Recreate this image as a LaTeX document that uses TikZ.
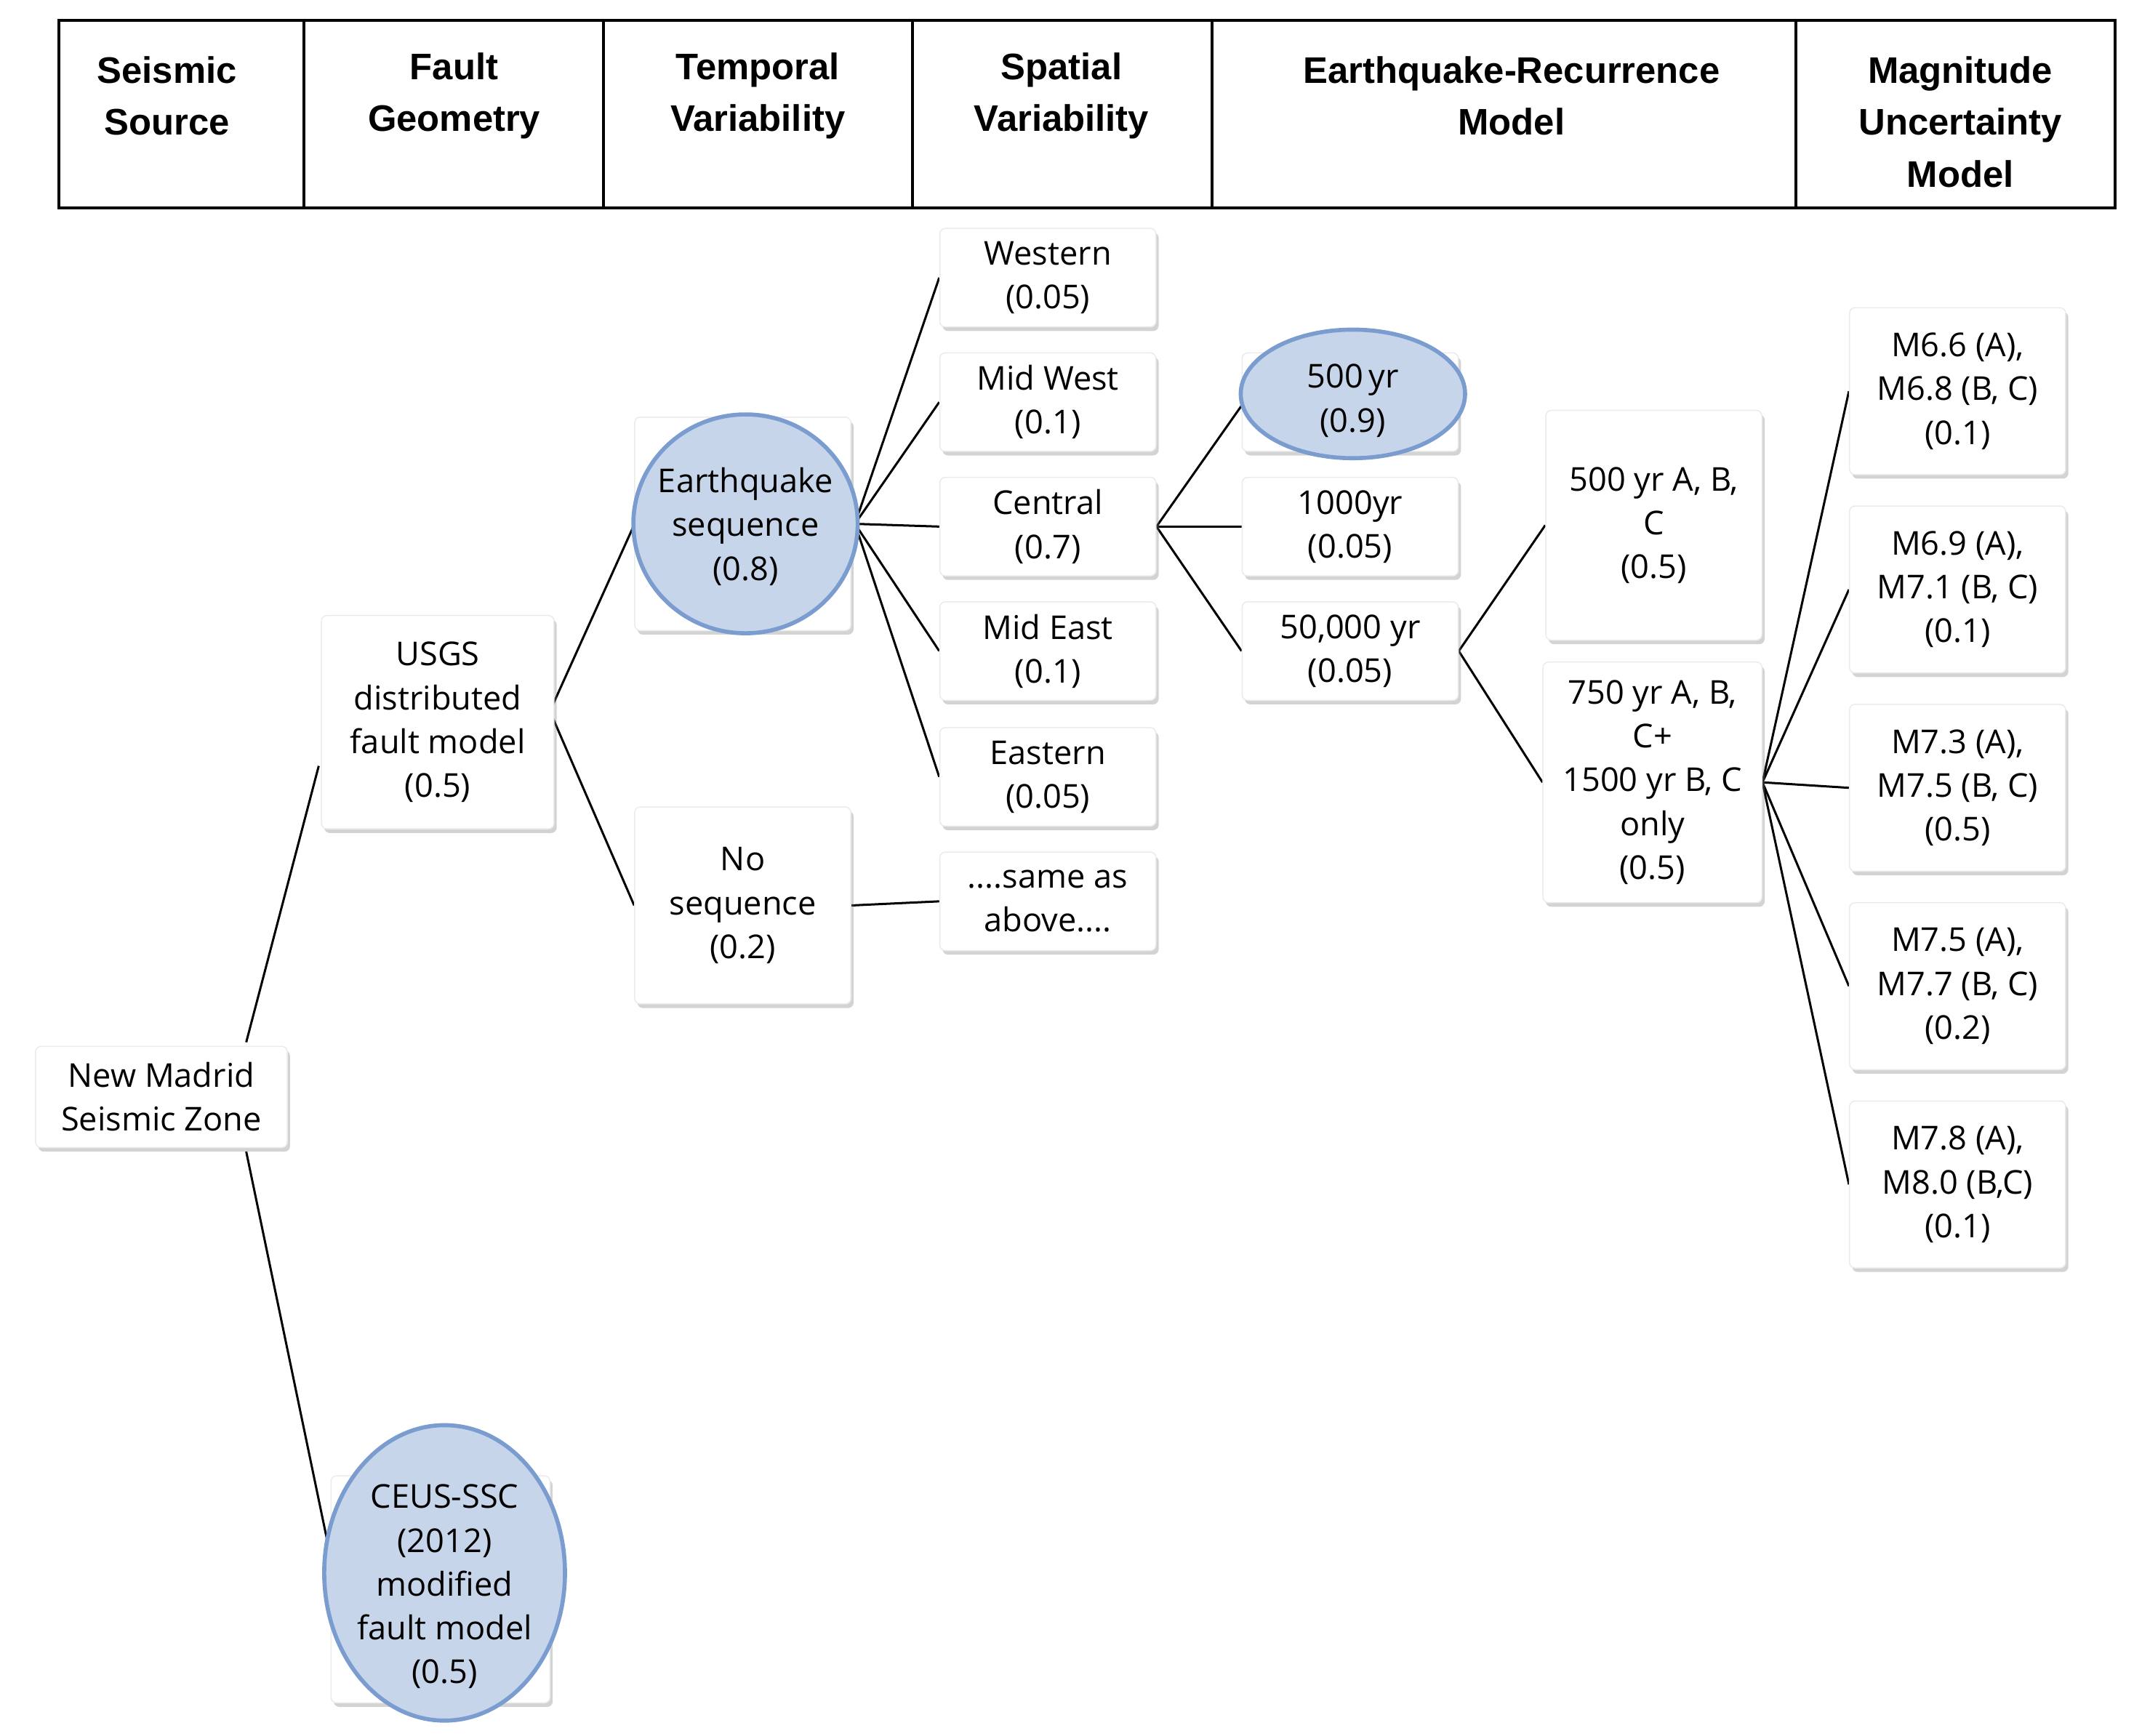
\documentclass[tikz,border=0pt]{standalone}
\usepackage{fontspec}
\setmainfont{Open Sans}
\newfontfamily\hdr{Liberation Sans}
\usetikzlibrary{shadows,shapes.geometric,backgrounds}
\definecolor{ellfill}{HTML}{C7D5EB}
\definecolor{elldraw}{HTML}{7A9CCF}
\begin{document}
\begin{tikzpicture}[x=0.5pt,y=-0.5pt,
  box/.style={draw=black!8,fill=white,rounded corners=2pt,drop shadow={shadow xshift=1pt,shadow yshift=-1.5pt,opacity=0.35},minimum width=79pt,inner sep=0pt},
  txt/.style={align=center,font=\fontsize{12}{16}\selectfont,inner sep=0pt},
  hd/.style={align=center,font=\hdr\bfseries\fontsize{13.5}{19}\selectfont},
  ell/.style={ellipse,draw=elldraw,line width=1.5pt,fill=ellfill,inner sep=0pt},
  ln/.style={line width=0.8pt}]
\useasboundingbox (0,0) rectangle (1560,1269);
% header
\draw[line width=1pt] (43,15) rectangle (1546,152);
\foreach \x in {222,441,667,886,1313} \draw[line width=1pt] (\x,15) -- (\x,152);
\node[hd] (h1) at (122,70) {Seismic\\Source};
\node[hd] (h2) at (332,70) {Fault\\Geometry};
\node[hd] (h3) at (554,70) {Temporal\\Variability};
\node[hd] (h4) at (776,70) {Spatial\\Variability};
\node[hd] (h5) at (1105,70) {Earthquake-Recurrence\\Model};
\node[hd] (h6) at (1433,89) {Magnitude\\Uncertainty\\Model};
% boxes
\node[box,minimum width=92pt,minimum height=37pt,txt] (nm) at (118,802) {New Madrid\\Seismic Zone};
\node[box,minimum width=85pt,minimum height=78pt,txt] (usgs) at (320,528) {USGS\\distributed\\fault model\\(0.5)};
\node[box,minimum width=80pt,minimum height=83pt] (ceus) at (322,1162) {};
\node[ell,minimum width=88pt,minimum height=108pt] (ceusE) at (325,1150) {};
\node[txt] (ceusT) at (325,1160) {CEUS-SSC\\(2012)\\modified\\fault model\\(0.5)};
\node[box,minimum height=78pt] (eq) at (543,383) {};
\node[ell,minimum width=82pt,minimum height=80pt] (eqE) at (545,383) {};
\node[txt] (eqT) at (545,385) {Earthquake\\sequence\\(0.8)};
\node[box,minimum height=72pt,txt] (noseq) at (543,662) {No\\sequence\\(0.2)};
\node[box,minimum height=36pt,txt] (w) at (766,203) {Western\\(0.05)};
\node[box,minimum height=36pt,txt] (mw) at (766,294) {Mid West\\(0.1)};
\node[box,minimum height=36pt,txt] (c) at (766,385) {Central\\(0.7)};
\node[box,minimum height=36pt,txt] (me) at (766,476) {Mid East\\(0.1)};
\node[box,minimum height=36pt,txt] (e) at (766,568) {Eastern\\(0.05)};
\node[box,minimum height=36pt,txt] (same) at (766,659) {....same as\\above....};
\node[box,minimum height=36pt] (y500) at (987,294) {};
\node[ell,minimum width=82pt,minimum height=47pt] (y500E) at (989,288) {};
\node[txt] (y500T) at (989,293) {500\,yr\\(0.9)};
\node[box,minimum height=36pt,txt] (y1000) at (987,385) {1000yr\\(0.05)};
\node[box,minimum height=36pt,txt] (y50k) at (987,476) {50,000 yr\\(0.05)};
\node[box,minimum height=84pt,txt] (abc) at (1209,384) {500 yr A, B,\\C\\(0.5)};
\node[box,minimum width=80pt,minimum height=88pt,txt] (y750) at (1208,572) {750 yr A, B,\\C+\\1500 yr B, C\\only\\(0.5)};
\node[box,minimum height=61pt,txt] (m1) at (1431,286) {M6.6 (A),\\M6.8 (B, C)\\(0.1)};
\node[box,minimum height=61pt,txt] (m2) at (1431,431) {M6.9 (A),\\M7.1 (B, C)\\(0.1)};
\node[box,minimum height=61pt,txt] (m3) at (1431,576) {M7.3 (A),\\M7.5 (B, C)\\(0.5)};
\node[box,minimum height=61pt,txt] (m4) at (1431,721) {M7.5 (A),\\M7.7 (B, C)\\(0.2)};
\node[box,minimum height=61pt,txt] (m5) at (1431,866) {M7.8 (A),\\M8.0 (B,C)\\(0.1)};
% connectors
\begin{pgfonlayer}{background}
\coordinate (nmT) at (180,762); \coordinate (nmB) at (180,842);
\coordinate (usL) at (233,560); \coordinate (ceL) at (241,1135);
\draw[ln] (nmT) -- (usL);
\draw[ln] (nmB) -- (ceL);
\coordinate (usR) at (402,520);
\coordinate (eqL) at (463,385); \coordinate (eqR) at (625,383);
\draw[ln] (usR) -- (eqL);
\draw[ln] (usR) -- (noseq.west);
\foreach \n in {w,mw,c,me,e} \draw[ln] (eqR) -- (\n.west);
\draw[ln] (noseq.east) -- (same.west);
\coordinate (y500L) at (908,296);
\draw[ln] (c.east) -- (y500L);
\draw[ln] (c.east) -- (y1000.west);
\draw[ln] (c.east) -- (y50k.west);
\draw[ln] (y50k.east) -- (abc.west);
\draw[ln] (y50k.east) -- (y750.west);
\foreach \n in {m1,m2,m3,m4,m5} \draw[ln] (y750.east) -- (\n.west);
\end{pgfonlayer}
\end{tikzpicture}
\end{document}
